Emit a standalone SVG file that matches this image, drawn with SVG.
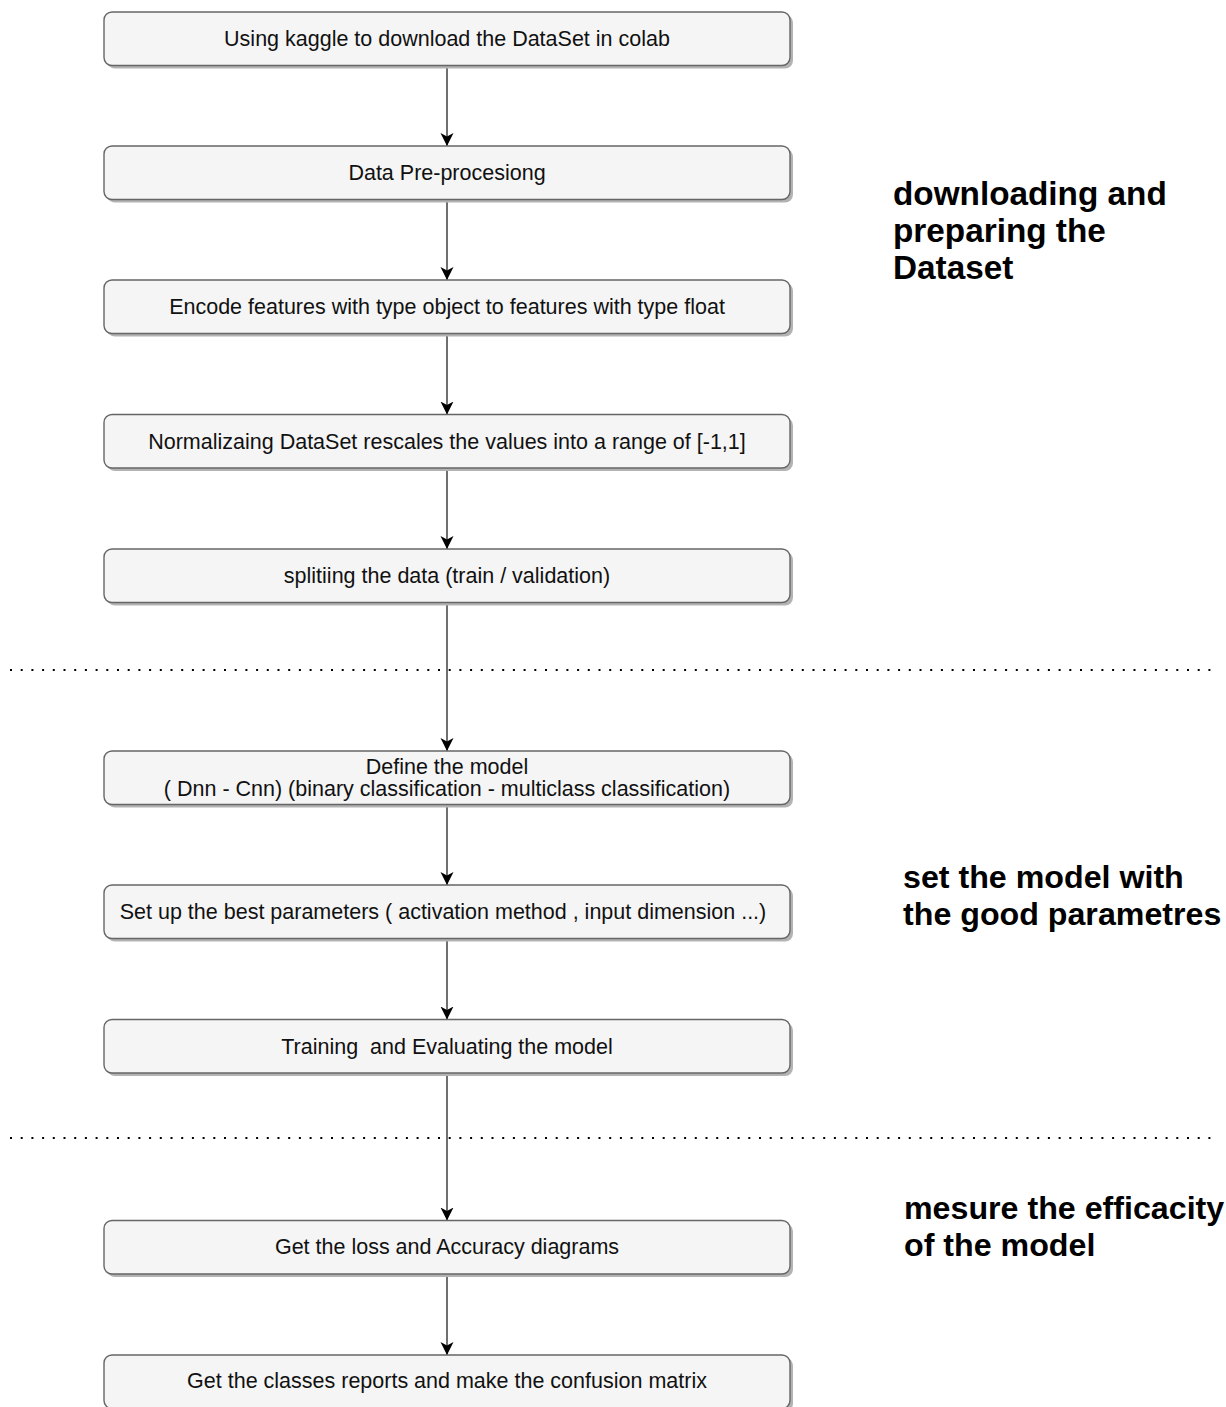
<svg xmlns="http://www.w3.org/2000/svg" width="1226" height="1407" viewBox="0 0 1226 1407">
  <style>
    .box { fill: #f5f5f5; stroke: #666666; stroke-width: 1.4; }
    .shadow { fill: #b3b3b3; }
    .lbl { font-family: "Liberation Sans", Arial, sans-serif; font-size: 21.5px; fill: #111111; text-anchor: middle; dominant-baseline: central; }
    .title { font-family: "Liberation Sans", Arial, sans-serif; font-size: 32.2px; font-weight: bold; fill: #000000; }
    .title.wide { font-size: 33.3px; }
    .edge { stroke: #333333; stroke-width: 1.4; fill: none; }
    .sep { stroke: #000000; stroke-width: 2; stroke-dasharray: 2 8.7; fill: none; }
  </style>
  <defs>
    <marker id="arrow" viewBox="0 0 14 14" refX="13" refY="7" markerWidth="14" markerHeight="14" markerUnits="userSpaceOnUse" orient="auto">
      <path d="M0,0.5 L13,7 L0,13.5 L3.5,7 Z" fill="#000000"/>
    </marker>
  </defs>
  <rect width="1226" height="1407" fill="#ffffff"/>

  <!-- section separators -->
  <g id="separators">
    <line class="sep" x1="10" y1="670" x2="1218" y2="670"/>
    <line class="sep" x1="10" y1="1138" x2="1218" y2="1138"/>
  </g>

  <!-- connectors -->
  <g id="connectors">
    <line class="edge" x1="447" y1="65.5" x2="447" y2="146" marker-end="url(#arrow)"/>
    <line class="edge" x1="447" y1="199.5" x2="447" y2="280" marker-end="url(#arrow)"/>
    <line class="edge" x1="447" y1="333.5" x2="447" y2="414.5" marker-end="url(#arrow)"/>
    <line class="edge" x1="447" y1="468" x2="447" y2="549" marker-end="url(#arrow)"/>
    <line class="edge" x1="447" y1="602.5" x2="447" y2="751" marker-end="url(#arrow)"/>
    <line class="edge" x1="447" y1="804.5" x2="447" y2="885" marker-end="url(#arrow)"/>
    <line class="edge" x1="447" y1="938.5" x2="447" y2="1019.5" marker-end="url(#arrow)"/>
    <line class="edge" x1="447" y1="1073" x2="447" y2="1220.5" marker-end="url(#arrow)"/>
    <line class="edge" x1="447" y1="1274" x2="447" y2="1355" marker-end="url(#arrow)"/>
  </g>

  <!-- process steps -->
  <g id="step1">
    <rect class="shadow" x="107" y="15" width="686" height="53.5" rx="8"/>
    <rect class="box" x="104" y="12" width="686" height="53.5" rx="8"/>
    <text class="lbl" x="447" y="39">Using kaggle to download the DataSet in colab</text>
  </g>
  <g id="step2">
    <rect class="shadow" x="107" y="149" width="686" height="53.5" rx="8"/>
    <rect class="box" x="104" y="146" width="686" height="53.5" rx="8"/>
    <text class="lbl" x="447" y="173">Data Pre-procesiong</text>
  </g>
  <g id="step3">
    <rect class="shadow" x="107" y="283" width="686" height="53.5" rx="8"/>
    <rect class="box" x="104" y="280" width="686" height="53.5" rx="8"/>
    <text class="lbl" x="447" y="307">Encode features with type object to features with type float</text>
  </g>
  <g id="step4">
    <rect class="shadow" x="107" y="417.5" width="686" height="53.5" rx="8"/>
    <rect class="box" x="104" y="414.5" width="686" height="53.5" rx="8"/>
    <text class="lbl" x="447" y="441.5">Normalizaing DataSet rescales the values into a range of [-1,1]</text>
  </g>
  <g id="step5">
    <rect class="shadow" x="107" y="552" width="686" height="53.5" rx="8"/>
    <rect class="box" x="104" y="549" width="686" height="53.5" rx="8"/>
    <text class="lbl" x="447" y="576">splitiing the data (train / validation)</text>
  </g>
  <g id="step6">
    <rect class="shadow" x="107" y="754" width="686" height="53.5" rx="8"/>
    <rect class="box" x="104" y="751" width="686" height="53.5" rx="8"/>
    <text class="lbl" x="447" y="767">Define the model</text>
    <text class="lbl" x="447" y="789">( Dnn - Cnn) (binary classification - multiclass classification)</text>
  </g>
  <g id="step7">
    <rect class="shadow" x="107" y="888" width="686" height="53.5" rx="8"/>
    <rect class="box" x="104" y="885" width="686" height="53.5" rx="8"/>
    <text class="lbl" x="443" y="912">Set up the best parameters ( activation method , input dimension ...)</text>
  </g>
  <g id="step8">
    <rect class="shadow" x="107" y="1022.5" width="686" height="53.5" rx="8"/>
    <rect class="box" x="104" y="1019.5" width="686" height="53.5" rx="8"/>
    <text class="lbl" x="447" y="1046.5" xml:space="preserve">Training  and Evaluating the model</text>
  </g>
  <g id="step9">
    <rect class="shadow" x="107" y="1223.5" width="686" height="53.5" rx="8"/>
    <rect class="box" x="104" y="1220.5" width="686" height="53.5" rx="8"/>
    <text class="lbl" x="447" y="1247">Get the loss and Accuracy diagrams</text>
  </g>
  <g id="step10">
    <rect class="shadow" x="107" y="1358" width="686" height="53.5" rx="8"/>
    <rect class="box" x="104" y="1355" width="686" height="53.5" rx="8"/>
    <text class="lbl" x="447" y="1381">Get the classes reports and make the confusion matrix</text>
  </g>

  <!-- section titles -->
  <g id="section-dataset">
    <text class="title wide" x="893" y="205">downloading and</text>
    <text class="title wide" x="893" y="242">preparing the</text>
    <text class="title wide" x="893" y="279">Dataset</text>
  </g>
  <g id="section-model">
    <text class="title" x="903" y="888">set the model with</text>
    <text class="title" x="903" y="925">the good parametres</text>
  </g>
  <g id="section-efficacity">
    <text class="title" x="904" y="1219">mesure the efficacity</text>
    <text class="title" x="904" y="1256">of the model</text>
  </g>
</svg>
